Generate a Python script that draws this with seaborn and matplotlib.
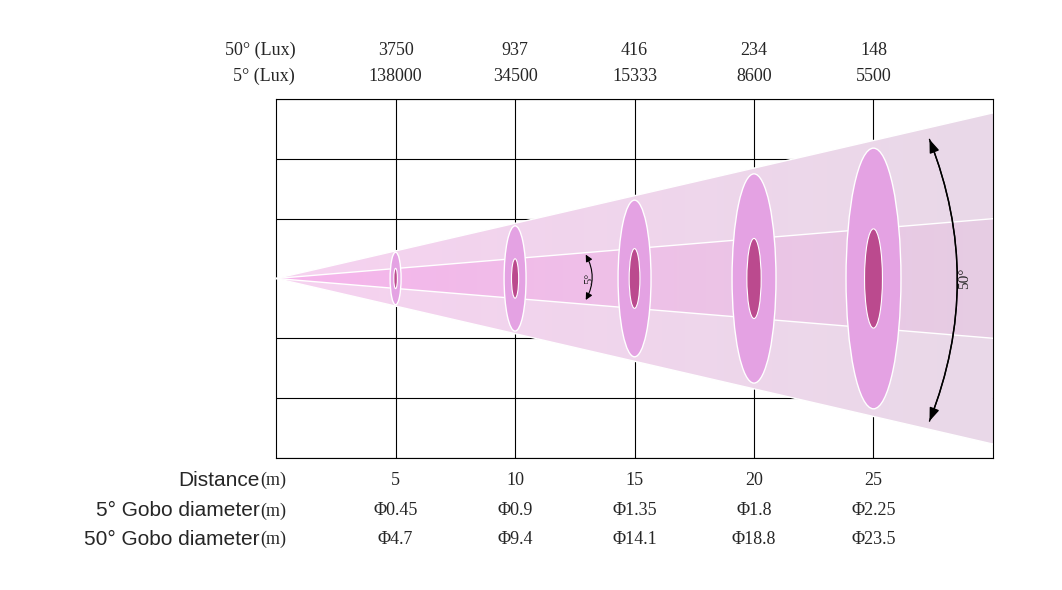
import numpy as np
import matplotlib
matplotlib.use("Agg")
import matplotlib.pyplot as plt
import seaborn as sns
from matplotlib.patches import Ellipse, Polygon, FancyArrowPatch
from matplotlib.transforms import blended_transform_factory

distance = [5, 10, 15, 20, 25]
lux_50 = ["3750", "937", "416", "234", "148"]
lux_5 = ["138000", "34500", "15333", "8600", "5500"]
gobo_5 = ["Φ0.45", "Φ0.9", "Φ1.35", "Φ1.8", "Φ2.25"]
gobo_50 = ["Φ4.7", "Φ9.4", "Φ14.1", "Φ18.8", "Φ23.5"]
# half heights in chart units (one grid row = 1)
wide_half = [0.44, 0.88, 1.31, 1.75, 2.18]
narrow_half = [0.17, 0.33, 0.5, 0.67, 0.83]
wide_slope = 2.77 / 30
narrow_slope = 1.0 / 30

sns.set_theme(style="white")
fig = plt.figure(figsize=(10.62, 5.9), dpi=100)
ax = fig.add_axes([0.260, 0.224, 0.675, 0.608])
ax.set_xlim(0, 30)
ax.set_ylim(-3, 3)

# gradient cones
xs = np.linspace(0, 1, 256)
def gradient(c0, c1, slope, z):
    c0, c1 = np.array(matplotlib.colors.to_rgb(c0)), np.array(matplotlib.colors.to_rgb(c1))
    img = (c0[None, :] * (1 - xs[:, None]) + c1[None, :] * xs[:, None])[None, :, :]
    im = ax.imshow(img, extent=[0, 30, -3, 3], aspect="auto", zorder=z)
    poly = Polygon([[0, 0], [30, 30 * slope], [30, -30 * slope]], closed=True,
                   facecolor="none", edgecolor="none", transform=ax.transData)
    ax.add_patch(poly)
    im.set_clip_path(poly)

gradient("#f6d2f0", "#e9d9e8", wide_slope, 1)
gradient("#f6b4ec", "#e6cde3", narrow_slope, 2)

for slope in [wide_slope, -wide_slope, narrow_slope, -narrow_slope]:
    sns.lineplot(x=[0, 30], y=[0, 30 * slope], color="white", lw=1, ax=ax, zorder=3)

for d, wh, nh in zip(distance, wide_half, narrow_half):
    ax.add_patch(Ellipse((d, 0), d * 0.092, 2 * wh, facecolor="#e4a2e3",
                         edgecolor="white", lw=1, zorder=4))
    ax.add_patch(Ellipse((d, 0), d * 0.03, 2 * nh, facecolor="#bb4a8e",
                         edgecolor="white", lw=0.8, zorder=5))

ax.set_xticks(distance)
ax.set_yticks(range(-3, 4))
ax.grid(True, color="black", lw=0.8, zorder=0)
ax.set_axisbelow(True)
ax.set_xticklabels([])
ax.set_yticklabels([])
ax.tick_params(length=0)
for s in ax.spines.values():
    s.set_color("black")
    s.set_linewidth(0.8)

# angle arrows
ax.add_patch(FancyArrowPatch((12.9, 0.44), (12.9, -0.40), connectionstyle="arc3,rad=-0.3",
                             arrowstyle="<|-|>,head_length=4,head_width=2", color="black", lw=0.8, zorder=6))
ax.text(13.1, 0, "5°", rotation=90, ha="center", va="center", fontsize=9,
        family="Liberation Serif", zorder=6)
ax.add_patch(FancyArrowPatch((27.3, 2.37), (27.3, -2.43), connectionstyle="arc3,rad=-0.2",
                             arrowstyle="-|>,head_length=8,head_width=3", color="black", lw=1, zorder=6))
ax.add_patch(FancyArrowPatch((27.3, -2.43), (27.3, 2.37), connectionstyle="arc3,rad=0.2",
                             arrowstyle="-|>,head_length=8,head_width=3", color="black", lw=1, zorder=6))
ax.text(28.8, 0, "50°", rotation=90, ha="center", va="center", fontsize=11,
        family="Liberation Serif", zorder=6)

tr = blended_transform_factory(ax.transData, ax.transAxes)
serif = dict(family="Liberation Serif", fontsize=13, ha="center", va="center", transform=tr)
ax.text(0.8, 1.136, "50° (Lux)", **{**serif, "ha": "right"})
ax.text(0.8, 1.064, "5° (Lux)", **{**serif, "ha": "right"})
for d, a, b, g5, g50 in zip(distance, lux_50, lux_5, gobo_5, gobo_50):
    ax.text(d, 1.136, a, **serif)
    ax.text(d, 1.064, b, **serif)
    ax.text(d, -0.064, str(d), **serif)
    ax.text(d, -0.148, g5, **serif)
    ax.text(d, -0.228, g50, **serif)

sans = dict(family="Liberation Sans", fontsize=15, ha="right", va="center", transform=tr)
for y, lab in [(-0.064, "Distance"), (-0.148, "5° Gobo diameter"), (-0.228, "50° Gobo diameter")]:
    ax.text(-0.7, y, lab, **sans)
    ax.text(-0.65, y, "(m)", family="Liberation Serif", fontsize=13, ha="left", va="center", transform=tr)

fig.savefig("out.png", dpi=100)
